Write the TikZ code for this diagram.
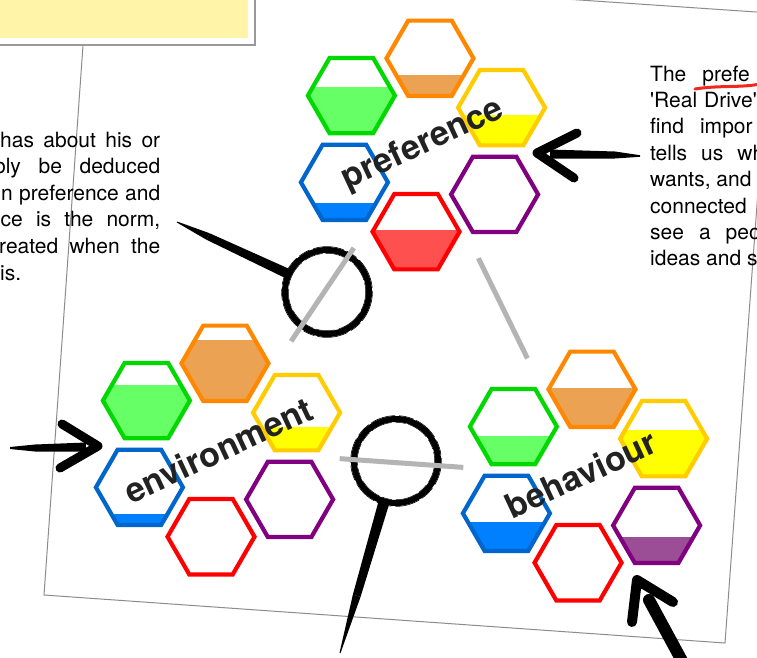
\documentclass[tikz,border=0pt]{standalone}
\usepackage{fontspec}
\setmainfont{TeX Gyre Heros}
\usetikzlibrary{calc}

\definecolor{hexgreen}{HTML}{00D800}
\definecolor{hexgreenfill}{HTML}{66FF66}
\definecolor{hexorange}{HTML}{FF8800}
\definecolor{hexorangefill}{HTML}{EBA252}
\definecolor{hexyellow}{HTML}{FFCC00}
\definecolor{hexyellowfill}{HTML}{FFFF00}
\definecolor{hexblue}{HTML}{0066CC}
\definecolor{hexbluefill}{HTML}{0080FF}
\definecolor{hexred}{HTML}{FF0000}
\definecolor{hexredfill}{HTML}{FF5050}
\definecolor{hexpurple}{HTML}{800080}
\definecolor{hexpurplefill}{HTML}{9B4D96}
\definecolor{notefill}{HTML}{FFF4A8}
\definecolor{linkgray}{HTML}{B4B4B4}
\definecolor{labelink}{HTML}{222222}
\definecolor{inkred}{HTML}{F0281E}

\def\hexr{43.5}
\def\ringd{87}

\newcommand{\taper}[4]{%
  \fill ($(#1)!#3!90:(#2)$) -- ($(#2)!#4!-90:(#1)$) -- ($(#2)!#4!90:(#1)$) -- ($(#1)!#3!-90:(#2)$) -- cycle;}

\begin{document}
\begin{tikzpicture}[x=1pt,y=-1pt,
    body text/.style = {font=\fontsize{21}{26}\selectfont, inner sep=0pt, anchor=base west},
    cluster label/.style = {font=\fontsize{34}{40}\selectfont\bfseries, text=labelink, rotate=25, inner sep=0pt},
    link/.style = {linkgray, line width=5pt},
    lens/.style = {circle, draw, line width=6pt, minimum size=84pt, inner sep=0pt},
    brush/.style = {line width=9pt, line cap=round, line join=round},
    hex edge/.style = {line width=4.2pt},
    pics/hexcell/.style n args={2}{code={
      \begin{scope}
        \clip (0:\hexr) -- (60:\hexr) -- (120:\hexr) -- (180:\hexr) -- (240:\hexr) -- (300:\hexr) -- cycle;
        \fill[#1fill] (-\hexr,{37.67-#2*75.34}) rectangle (\hexr,\hexr);
      \end{scope}
      \draw[#1, hex edge] (0:\hexr) -- (60:\hexr) -- (120:\hexr) -- (180:\hexr) -- (240:\hexr) -- (300:\hexr) -- cycle;
    }}]

  \path[use as bounding box, fill=white] (0,0) rectangle (757,657);

  % sheet and note
  \draw[black!45, line width=1pt] (88.6,-33.4) -- (771,13) -- (725,643) -- (44,595) -- cycle;
  \fill[black!40] (-5,-5) rectangle (255.5,45.5);
  \fill[white] (-5,-5) rectangle (254,44);
  \fill[notefill] (-5,-5) rectangle (248.3,37.5);

  % text left
  \node[body text] (l1) at (0,147) {\makebox[160pt][s]{has about his or}};
  \node[body text] (l2) at (-6,173.5) {\makebox[166pt][s]{bly be deduced}};
  \node[body text] (l3) at (1,200) {\makebox[159pt][s]{n preference and}};
  \node[body text] (l4) at (0.5,226.5) {\makebox[159.5pt][s]{ce is the norm,}};
  \node[body text] (l5) at (-1,253) {\makebox[161pt][s]{reated when the}};
  \node[body text] (l6) at (0,280) {is.};

  % text right
  \node[body text] (r1) at (650,81) {The\hspace{16pt}prefe};
  \node[body text] (r2) at (650,107.4) {\textquotesingle Real\hspace{7pt}Drive\textquotesingle};
  \node[body text] (r3) at (650,133.8) {find\hspace{16pt}impor};
  \node[body text] (r4) at (650,160.2) {tells\hspace{14pt}us\hspace{14pt}wh};
  \node[body text] (r5) at (650,186.6) {wants, and};
  \node[body text] (r6) at (650,213) {connected};
  \node[body text] (r7) at (650,239.4) {see\hspace{15pt}a\hspace{15pt}peo};
  \node[body text] (r8) at (650,265.8) {ideas and s};
  \draw[inkred, line width=3pt, line cap=round] (695,89) .. controls (720,85) and (740,88) .. (760,84);

  \coordinate (pc) at (423,145);
  \coordinate (ec) at (218,450);
  \coordinate (bc) at (585,476);

  % lenses
  \node[lens] (lens1) at (327,292) {};
  \node[lens] (lens2) at (396,461) {};
  \draw[line width=0.6pt, dash pattern=on 31pt off 3pt on 12pt off 4pt] (lens1.center) circle (45.4);
  \draw[line width=0.6pt, dash pattern=on 25pt off 4pt on 15pt off 3pt] (lens2.center) circle (45.4);
  \draw[line width=0.5pt, dash pattern=on 19pt off 3pt on 27pt off 4pt] (lens1.center) circle (38.7);
  \draw[line width=0.5pt, dash pattern=on 22pt off 4pt on 10pt off 3pt] (lens2.center) circle (38.7);
  \coordinate (grip1) at (177,222);
  \coordinate (grip2) at (340,653);
  \coordinate (joint1) at ($(lens1.center)!43pt!(grip1)$);
  \coordinate (joint2) at ($(lens2.center)!43pt!(grip2)$);
  \coordinate (mid1) at ($(joint1)!0.72!(grip1)$);
  \coordinate (mid2) at ($(joint2)!0.62!(grip2)$);
  \taper{joint1}{mid1}{5pt}{3.6pt}
  \taper{mid1}{grip1}{3.6pt}{0.5pt}
  \taper{joint2}{mid2}{5.5pt}{4pt}
  \taper{mid2}{grip2}{4pt}{0.5pt}

  % links
  \draw[link, shorten <=124pt, shorten >=131pt] (pc) -- (ec);
  \draw[link, shorten <=126pt, shorten >=131pt] (pc) -- (bc);
  \draw[link, shorten <=122pt, shorten >=122pt] (ec) -- (bc);

  % preference
  \begin{scope}[shift={(pc)}, rotate=-4.6]
    \pic (pgreen) at (210:\ringd) {hexcell={hexgreen}{0.62}};
    \pic (porange) at (270:\ringd) {hexcell={hexorange}{0.28}};
    \pic (pyellow) at (330:\ringd) {hexcell={hexyellow}{0.40}};
    \pic (ppurple) at (30:\ringd) {hexcell={hexpurple}{0}};
    \pic (pred) at (90:\ringd) {hexcell={hexred}{0.52}};
    \pic (pblue) at (150:\ringd) {hexcell={hexblue}{0.22}};
  \end{scope}
  \node[cluster label] (pref) at (pc) {preference};

  % environment
  \begin{scope}[shift={(ec)}, rotate=-4.6]
    \pic (egreen) at (210:\ringd) {hexcell={hexgreen}{0.71}};
    \pic (eorange) at (270:\ringd) {hexcell={hexorange}{0.81}};
    \pic (eyellow) at (330:\ringd) {hexcell={hexyellow}{0.31}};
    \pic (epurple) at (30:\ringd) {hexcell={hexpurple}{0}};
    \pic (ered) at (90:\ringd) {hexcell={hexred}{0}};
    \pic (eblue) at (150:\ringd) {hexcell={hexblue}{0.14}};
  \end{scope}
  \node[cluster label] (env) at (ec) {environment};

  % behaviour
  \begin{scope}[shift={(bc)}, rotate=-4.6]
    \pic (bgreen) at (210:\ringd) {hexcell={hexgreen}{0.38}};
    \pic (borange) at (270:\ringd) {hexcell={hexorange}{0.52}};
    \pic (byellow) at (330:\ringd) {hexcell={hexyellow}{0.62}};
    \pic (bpurple) at (30:\ringd) {hexcell={hexpurple}{0.35}};
    \pic (bred) at (90:\ringd) {hexcell={hexred}{0}};
    \pic (bblue) at (150:\ringd) {hexcell={hexblue}{0.39}};
  \end{scope}
  \node[cluster label] (beh) at ([shift={(-4,-2)}]bc) {behaviour};

  % arrows
  \coordinate (ptip) at (537,153);
  \coordinate (etip) at (98,446);
  \coordinate (btip) at (637,580);
  \draw[brush] (577,133) -- (ptip) -- (574,178);
  \taper{550,154}{615,155}{4.5pt}{3.5pt}
  \taper{615,155}{640,156}{3.5pt}{0.8pt}
  \draw[brush] (62,424) -- (etip) -- (60,468);
  \taper{86,447}{35,448}{4.5pt}{3.5pt}
  \taper{35,448}{10,448}{3.5pt}{1pt}
  \draw[brush, line width=10pt] (632,622) -- (btip) -- (673,602);
  \draw[brush, line width=12pt] (649,600) -- (688,672);
\end{tikzpicture}
\end{document}
